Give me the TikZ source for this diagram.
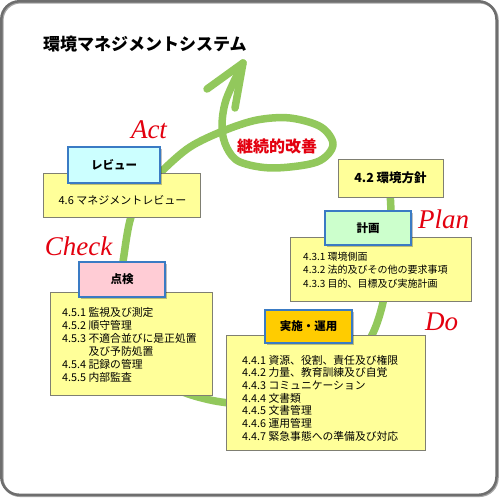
\documentclass[tikz,border=0pt]{standalone}
\usepackage{fontspec}
\setmainfont{Noto Sans CJK JP}
\newfontfamily\pdcafont{Liberation Serif}[ItalicFont={Liberation Serif Italic}]
\usetikzlibrary{shadows}
\definecolor{frameGray}{HTML}{6E6E6E}
\definecolor{boxYellow}{HTML}{FFFF99}
\definecolor{yBorder}{HTML}{7F7F72}
\definecolor{hdrBlue}{HTML}{3A7BC4}
\definecolor{reviewFill}{HTML}{CCFFFF}
\definecolor{planFill}{HTML}{CCFFCC}
\definecolor{checkFill}{HTML}{FFCCD5}
\definecolor{doFill}{HTML}{FFCC00}
\definecolor{arcGreen}{HTML}{92C85C}
\definecolor{redText}{HTML}{E3000F}
\newcommand{\pdcalabel}[1]{{\pdcafont\fontsize{27}{30}\selectfont\itshape #1}}
\begin{document}
\begin{tikzpicture}[x=1pt,y=-1pt,
  ybox/.style={draw=yBorder, fill=boxYellow, line width=0.9pt, inner sep=0pt, rectangle},
  hbox/.style={draw=hdrBlue, line width=1.2pt, inner sep=0pt, rectangle,
    font=\fontsize{11.5}{13}\selectfont\bfseries,
    drop shadow={shadow xshift=1.5pt, shadow yshift=-1.5pt, opacity=0.25, fill=black}},
  items/.style={anchor=west, align=left, inner sep=0pt},
  pdca/.style={text=redText, anchor=base, inner sep=0pt},
  greenline/.style={draw=arcGreen, line width=7.5pt, line cap=round, line join=round}
]
\useasboundingbox (0,0) rectangle (500,500);
\fill[white] (0,0) rectangle (500,500);
% frame with slight shadow
\draw[rounded corners=18pt, line width=2.5pt, black!35] (2.3,2.3) rectangle (497.5,495.8);
\draw[rounded corners=18pt, line width=2.5pt, frameGray] (1.3,1.3) rectangle (496.5,494.8);

% title
\node[anchor=west, inner sep=0pt, font=\fontsize{17}{20}\selectfont\bfseries] (title) at (43,44) {環境マネジメントシステム};

% green spiral
\draw[greenline] plot[smooth, tension=0.55] coordinates {
 (389,178) (391,215) (389,258) (384,298) (373,333) (352,366) (320,390) (275,403)
 (230,403) (198,397) (172,387) (150,370) (134,346) (124,315) (121,285) (124,255)
 (131,217) (145,190) (163,170) (190,147) (223,131) (257,120) (290,118) (321,127)
 (333,145) (317,162) (273,168) (240,162) (227,148) (222,128) (226,100) (243,63)};
\coordinate (tip) at (243,63);
\coordinate (barbL) at (207,89);
\coordinate (barbR) at (235,108);
\draw[greenline] (barbL) -- (tip) -- (barbR);

\node[font=\fontsize{16}{18}\selectfont\bfseries, text=redText, inner sep=0pt] (kaizen) at (277,146) {継続的改善};

% yellow boxes
\node[ybox, minimum width=157pt, minimum height=44pt] (actbox) at (121.5,195) {};
\node[inner sep=0pt, font=\fontsize{11}{13}\selectfont] (acttext) at (122.5,200) {4.6 マネジメントレビュー};

\node[ybox, minimum width=105pt, minimum height=38pt] (policy) at (390.5,178)
  {\fontsize{12.5}{14}\selectfont\bfseries 4.2 環境方針};

\node[ybox, minimum width=181pt, minimum height=64pt] (planbox) at (380.5,269) {};
\node[items, font=\fontsize{10}{13.5}\selectfont] (plantext) at (303,270)
  {4.3.1 環境側面\\4.3.2 法的及びその他の要求事項\\4.3.3 目的、目標及び実施計画};

\node[ybox, minimum width=162pt, minimum height=103pt] (checkbox) at (131,343.5) {};
\node[items, font=\fontsize{10.8}{13}\selectfont] (checktext) at (62,345)
  {4.5.1 監視及び測定\\4.5.2 順守管理\\4.5.3 不適合並びに是正処置\\\phantom{4.5.3 }及び予防処置\\4.5.4 記録の管理\\4.5.5 内部監査};

\node[ybox, minimum width=199pt, minimum height=115pt] (dobox) at (325.5,392.5) {};
\node[items, font=\fontsize{10.8}{12.7}\selectfont] (dotext) at (242,398)
  {4.4.1 資源、役割、責任及び権限\\4.4.2 力量、教育訓練及び自覚\\4.4.3 コミュニケーション\\4.4.4 文書類\\4.4.5 文書管理\\4.4.6 運用管理\\4.4.7 緊急事態への準備及び対応};

% header boxes
\node[hbox, fill=reviewFill, minimum width=92pt, minimum height=36pt] (review) at (114,165) {レビュー};
\node[hbox, fill=planFill, minimum width=86pt, minimum height=34pt] (plan) at (368,228) {計画};
\node[hbox, fill=checkFill, minimum width=86pt, minimum height=35pt] (check) at (122,279.5) {点検};
\node[hbox, fill=doFill, minimum width=87pt, minimum height=33pt] (do) at (308.5,326.5) {実施・運用};

% PDCA labels
\node[pdca] (actlbl) at (149,138) {\pdcalabel{Act}};
\node[pdca] (checklbl) at (78.5,255) {\pdcalabel{Check}};
\node[pdca] (planlbl) at (443.5,228) {\pdcalabel{Plan}};
\node[pdca] (dolbl) at (441.5,330) {\pdcalabel{Do}};
\end{tikzpicture}
\end{document}
